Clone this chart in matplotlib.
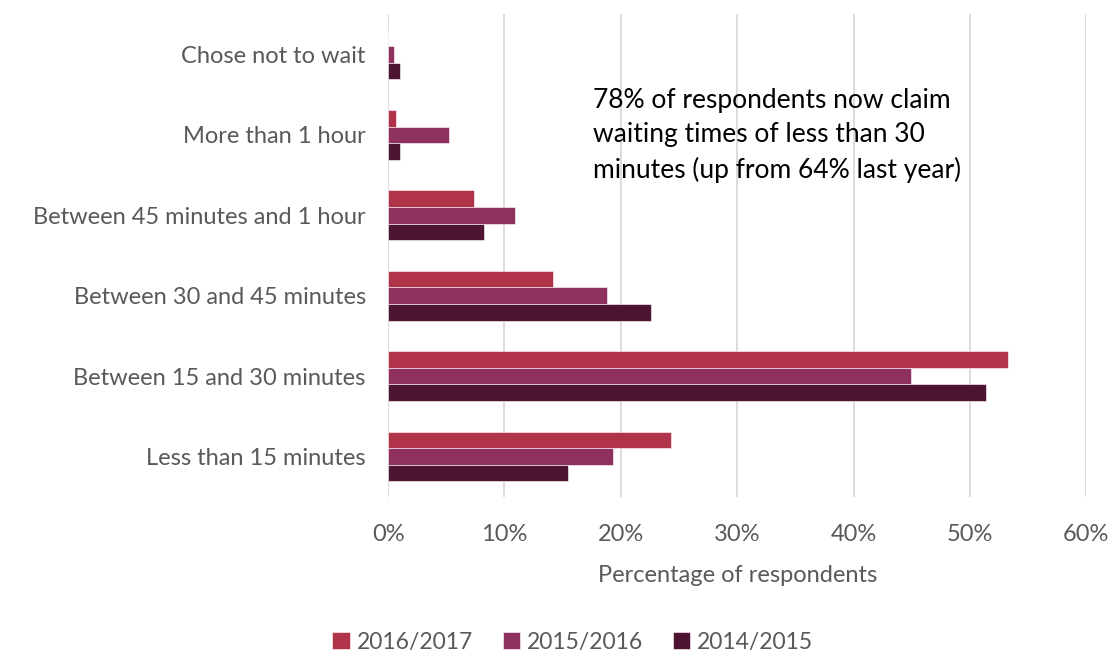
import matplotlib.pyplot as plt
import numpy as np
from matplotlib.ticker import PercentFormatter

categories = ["Chose not to wait", "More than 1 hour", "Between 45 minutes and 1 hour",
              "Between 30 and 45 minutes", "Between 15 and 30 minutes", "Less than 15 minutes"]
series = ["2016/2017", "2015/2016", "2014/2015"]
v2016 = [0.0, 0.65, 7.4, 14.2, 53.3, 24.3]
v2015 = [0.5, 5.2, 10.9, 18.8, 44.9, 19.3]
v2014 = [1.0, 1.0, 8.2, 22.6, 51.4, 15.5]
colors = ["#B0334A", "#8E3060", "#4E1533"]

plt.rcParams['font.family'] = ['Lato', 'DejaVu Sans']
TXT = "#595959"

fig = plt.figure(figsize=(11.12, 6.51), dpi=100)
ax = fig.add_axes([0.349, 0.237, 0.628, 0.741])

y = np.arange(len(categories))
h = 0.207
for i, (vals, name, c) in enumerate(zip([v2016, v2015, v2014], series, colors)):
    ax.barh(y + (i - 1) * h, vals, height=h, color=c, label=name,
            edgecolor="white", linewidth=0.4, zorder=3)

ax.set_ylim(len(categories) - 0.5, -0.5)
ax.set_xlim(0, 60)
ax.set_xticks(np.arange(0, 61, 10))
ax.xaxis.set_major_formatter(PercentFormatter(decimals=0))
ax.set_yticks(y)
ax.set_yticklabels(categories)
ax.tick_params(length=0, labelsize=17, colors=TXT)
ax.tick_params(axis="x", pad=20)
ax.tick_params(axis="y", pad=16)
ax.grid(axis="x", color="#D9D9D9", linewidth=1.3, zorder=0)
for s in ax.spines.values():
    s.set_visible(False)

ax.set_xlabel("Percentage of respondents", fontsize=17, color=TXT, labelpad=14)

ax.text(17.6, 0.42, "78% of respondents now claim\nwaiting times of less than 30\nminutes (up from 64% last year)",
        fontsize=19, color="black", va="top", ha="left", linespacing=1.45)

fig.legend(loc="lower center", bbox_to_anchor=(0.515, -0.034), ncol=3, frameon=False,
           fontsize=16.5, labelcolor=TXT, handlelength=0.75, handleheight=0.75,
           handletextpad=0.3, columnspacing=1.3)

fig.savefig("out.png", dpi=100)
